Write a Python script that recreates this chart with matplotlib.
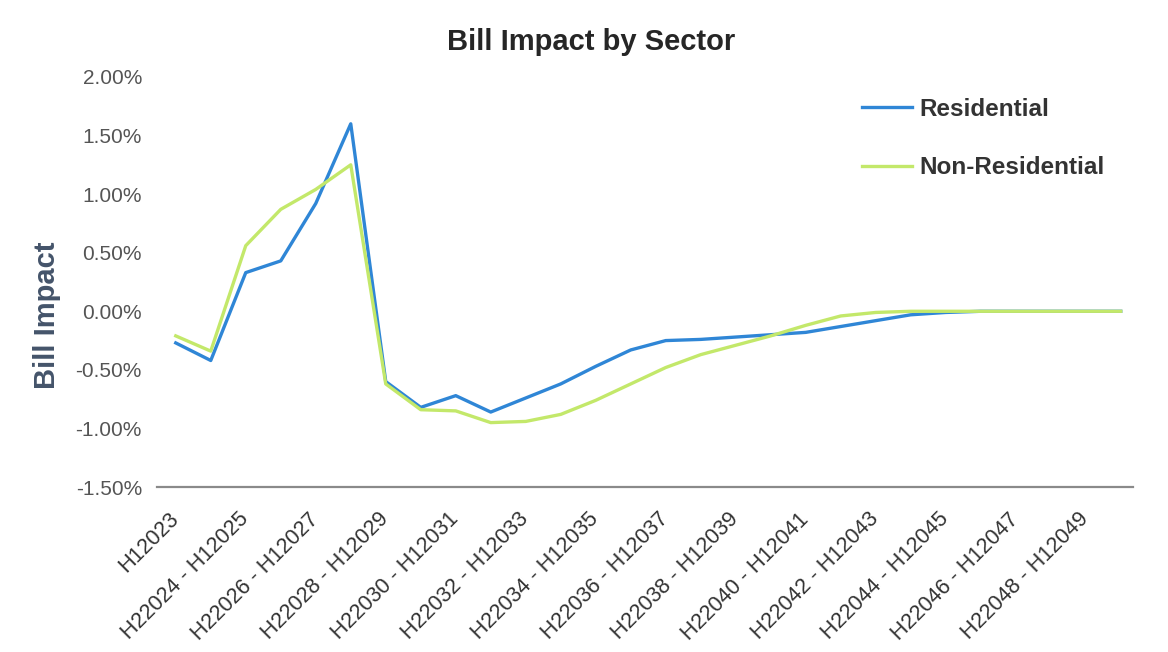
import matplotlib.pyplot as plt
import matplotlib.transforms as mtransforms
from matplotlib.ticker import FuncFormatter

# half-year periods: H12023, then H2yyyy - H1yyyy+1
periods = ["H12023"] + ["H2%d - H1%d" % (y, y + 1) for y in range(2023, 2050)]

residential = [-0.27, -0.42, 0.33, 0.43, 0.92, 1.60, -0.60, -0.82, -0.72, -0.86,
               -0.74, -0.62, -0.47, -0.33, -0.25, -0.24, -0.22, -0.20, -0.18, -0.13,
               -0.08, -0.03, -0.01, 0.0, 0.0, 0.0, 0.0, 0.0]
non_residential = [-0.21, -0.34, 0.56, 0.87, 1.04, 1.25, -0.62, -0.84, -0.85, -0.95,
                   -0.94, -0.88, -0.76, -0.62, -0.48, -0.37, -0.29, -0.21, -0.12, -0.04,
                   -0.01, 0.0, 0.0, 0.0, 0.0, 0.0, 0.0, 0.0]

plt.rcParams["font.family"] = ["Liberation Sans", "DejaVu Sans"]

fig = plt.figure(figsize=(11.68, 6.52), dpi=100)
ax = fig.add_axes([0.134, 0.253, 0.836, 0.629])

x = list(range(len(periods)))
ax.plot(x, residential, color="#2F86D6", lw=2.4, label="Residential")
ax.plot(x, non_residential, color="#C3E86A", lw=2.4, label="Non-Residential")

ax.set_ylim(-1.5, 2.0)
ax.set_xlim(-0.55, 27.35)
ax.set_yticks([-1.5, -1.0, -0.5, 0.0, 0.5, 1.0, 1.5, 2.0])
ax.yaxis.set_major_formatter(FuncFormatter(lambda v, p: "%.2f%%" % v))

xt = x[::2]
ax.set_xticks(xt)
ax.set_xticklabels([periods[i] for i in xt], rotation=45, ha="right",
                   rotation_mode="anchor", fontsize=15.5, color="#333333")
ax.tick_params(axis="both", length=0)
ax.tick_params(axis="y", labelsize=15, colors="#555555", pad=10.5)
ax.tick_params(axis="x", pad=7)
# nudge the slanted labels a bit left and down (after tick_params, which resets transforms)
shift = mtransforms.ScaledTranslation(-0.08, -0.12, fig.dpi_scale_trans)
for lab in ax.get_xticklabels():
    lab.set_transform(lab.get_transform() + shift)

for s in ["top", "right", "left"]:
    ax.spines[s].set_visible(False)
ax.spines["bottom"].set_color("#8a8a8a")
ax.spines["bottom"].set_linewidth(1.6)

fig.text(0.506, 0.936, "Bill Impact by Sector", fontsize=21, fontweight="bold",
         color="#262626", ha="center", va="center")
ax.set_ylabel("Bill Impact", fontsize=21, fontweight="bold", color="#44546A")
ax.yaxis.set_label_coords(-0.098, 0.42)

leg = ax.legend(loc="upper left", bbox_to_anchor=(862 / 1168, 1 - 98 / 652),
                bbox_transform=fig.transFigure, frameon=False, borderpad=0,
                borderaxespad=0, fontsize=17.5, labelspacing=1.45,
                handlelength=2.05, handletextpad=0.3)
for t in leg.get_texts():
    t.set_fontweight("bold")
    t.set_color("#333333")

fig.savefig("out.png", dpi=100)
